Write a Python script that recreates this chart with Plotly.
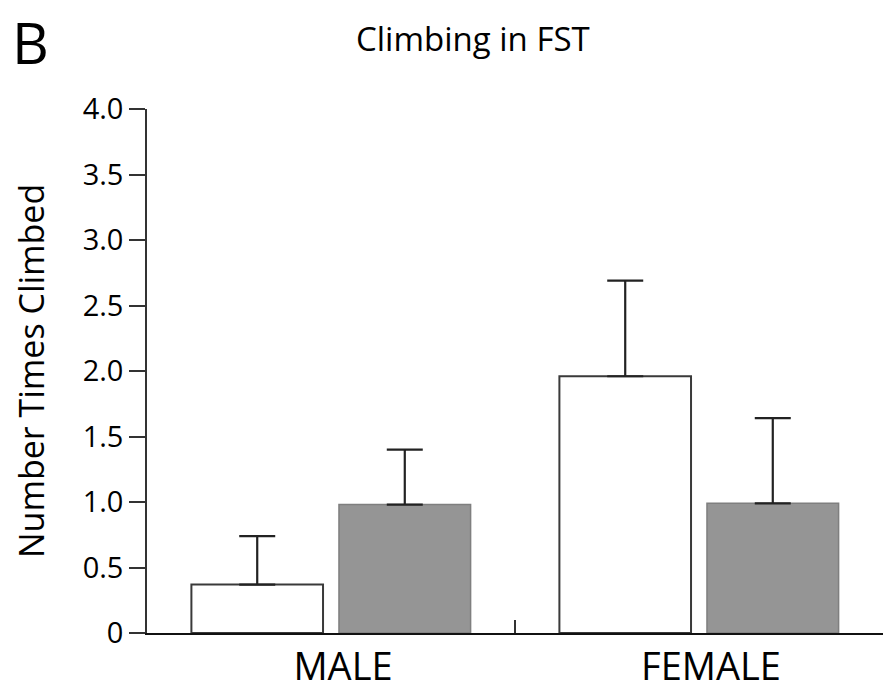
import plotly.graph_objects as go

# Climbing counts in the forced swim test, by sex
sexes = ["MALE", "FEMALE"]
open_means = [0.37, 1.96]
open_sem = [0.37, 0.73]
grey_means = [0.98, 0.99]
grey_sem = [0.42, 0.65]
y_ticks = [0, 0.5, 1.0, 1.5, 2.0, 2.5, 3.0, 3.5, 4.0]
y_tick_text = ["0", "0.5", "1.0", "1.5", "2.0", "2.5", "3.0", "3.5", "4.0"]

FONT = "Open Sans"

fig = go.Figure()
fig.add_trace(go.Bar(
    x=sexes, y=open_means, name="open",
    marker=dict(color="white", line=dict(color="#3a3a3a", width=2)),
    error_y=dict(type="data", array=open_sem, symmetric=False, arrayminus=[0, 0],
                 color="#222222", thickness=2.2, width=18),
))
fig.add_trace(go.Bar(
    x=sexes, y=grey_means, name="grey",
    marker=dict(color="#959595", line=dict(color="#7f7f7f", width=1.5)),
    error_y=dict(type="data", array=grey_sem, symmetric=False, arrayminus=[0, 0],
                 color="#222222", thickness=2.2, width=18),
))

fig.update_layout(
    width=883, height=692,
    margin=dict(l=147, r=0, t=109, b=59),
    paper_bgcolor="white", plot_bgcolor="white",
    barmode="group", bargap=0.198, bargroupgap=0.108,
    showlegend=False,
    font=dict(family=FONT, color="black"),
)

fig.update_xaxes(
    type="category", range=[-0.5, 1.5],
    showline=True, linecolor="#111111", linewidth=1.5,
    ticks="inside", tickson="boundaries", ticklen=13, tickwidth=1.5, tickcolor="#333333",
    tickfont=dict(size=38, family=FONT, color="black"),
    ticklabelshift=12, ticklabelstandoff=0,
    showgrid=False, zeroline=False, automargin=False,
)
fig.update_yaxes(
    range=[0, 4.0], tickvals=y_ticks, ticktext=y_tick_text,
    showline=True, linecolor="#333333", linewidth=1.5,
    ticks="outside", ticklen=16, tickwidth=1.5, tickcolor="#333333",
    tickfont=dict(size=29, family=FONT, color="black"),
    showgrid=False, zeroline=False, automargin=False,
)

# panel letter, title and rotated y-axis title
fig.add_annotation(text="B", xref="paper", yref="paper", x=0, y=1,
                   xshift=-147 + 10, yshift=109 - 1, xanchor="left", yanchor="top",
                   showarrow=False, font=dict(size=57, family=FONT, color="black"))
fig.add_annotation(text="Climbing in FST", xref="paper", yref="paper", x=0, y=1,
                   xshift=473 - 147, yshift=109 - 38, xanchor="center", yanchor="middle",
                   showarrow=False, font=dict(size=33, family=FONT, color="black"))
fig.add_annotation(text="Number Times Climbed", xref="paper", yref="paper", x=0, y=0.5,
                   xshift=31 - 147, xanchor="center", yanchor="middle", textangle=-90,
                   showarrow=False, font=dict(size=34, family=FONT, color="black"))

fig.write_html("out.html")
